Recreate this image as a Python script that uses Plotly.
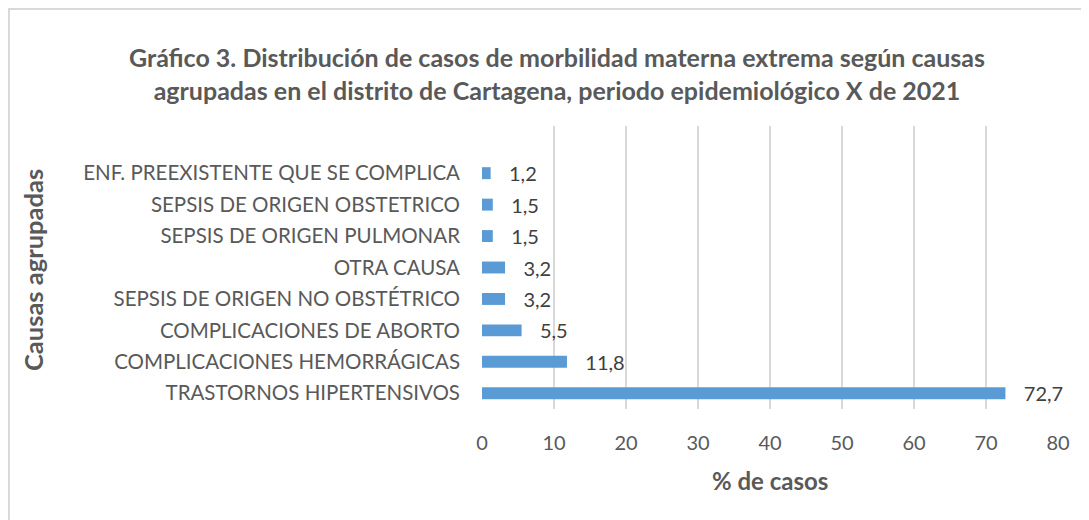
import plotly.graph_objects as go

categories = [
    "TRASTORNOS HIPERTENSIVOS",
    "COMPLICACIONES HEMORRÁGICAS",
    "COMPLICACIONES DE ABORTO",
    "SEPSIS DE ORIGEN NO OBSTÉTRICO",
    "OTRA CAUSA",
    "SEPSIS DE ORIGEN PULMONAR",
    "SEPSIS DE ORIGEN OBSTETRICO",
    "ENF. PREEXISTENTE QUE SE COMPLICA",
]
values = [72.7, 11.8, 5.5, 3.2, 3.2, 1.5, 1.5, 1.2]
x_ticks = [0, 10, 20, 30, 40, 50, 60, 70, 80]

# page body margin offset (8px) compensation
OFF = 8
W, H = 1089, 520
ml = 482 - OFF
mt = 126 - OFF
mr = W - (1058 - OFF)
mb = H - (409 - OFF)
FONT = "Lato"

def px_x(p):
    return (p - OFF - ml) / (W - ml - mr)

def px_y(p):
    return (H - mb - (p - OFF)) / (H - mt - mb)

fig = go.Figure(go.Bar(
    x=values, y=categories, orientation="h",
    marker=dict(color="#5b9bd5", line=dict(width=0)),
    text=values, texttemplate="\u00a0\u00a0\u00a0%{x:.1f}", textposition="outside",
    constraintext="none",
    textfont=dict(family=FONT, size=20, color="#404040"),
    cliponaxis=False,
))

fig.update_layout(
    width=W, height=H,
    margin=dict(l=ml, r=mr, t=mt, b=mb, autoexpand=False),
    paper_bgcolor="white", plot_bgcolor="white",
    separators=",.",
    bargap=0.62,
    showlegend=False,
    font=dict(family=FONT, color="#595959"),
    title=dict(
        text="Gráfico 3. Distribución de casos de morbilidad materna extrema según causas<br>agrupadas en el distrito de Cartagena, periodo epidemiológico X de 2021",
        x=px_x(557), xref="paper", xanchor="center",
        y=1 - 59 / H, yref="container", yanchor="top",
        font=dict(family=FONT, size=25, color="#595959", weight="bold"),
    ),
    xaxis=dict(
        range=[0, 80], tickvals=x_ticks, automargin=False,
        showgrid=True, gridcolor="#d9d9d9", gridwidth=2,
        zeroline=False, showline=False,
        tickfont=dict(family=FONT, size=20, color="#595959"),
        ticklabelstandoff=20,
    ),
    yaxis=dict(
        categoryorder="array", categoryarray=categories,
        range=[-0.5, 8.5], automargin=False,
        showgrid=False, zeroline=False, showline=False,
        tickfont=dict(family=FONT, size=20.5, color="#595959"),
        ticklabelstandoff=21,
    ),
    shapes=[dict(
        type="rect", xref="paper", yref="paper",
        x0=px_x(9), x1=px_x(1100), y0=px_y(9), y1=px_y(530),
        line=dict(color="#d9d9d9", width=2), fillcolor="rgba(0,0,0,0)",
        layer="below",
    )],
    annotations=[
        dict(
            text="Causas agrupadas", textangle=-90,
            xref="paper", yref="paper", x=px_x(33), y=px_y(270),
            xanchor="center", yanchor="middle", showarrow=False,
            font=dict(family=FONT, size=25.5, color="#595959", weight="bold"),
        ),
        dict(
            text="% de casos",
            xref="paper", yref="paper", x=px_x(770), y=px_y(480),
            xanchor="center", yanchor="middle", showarrow=False,
            font=dict(family=FONT, size=24, color="#595959", weight="bold"),
        ),
    ],
)

fig.write_html("out.html")
